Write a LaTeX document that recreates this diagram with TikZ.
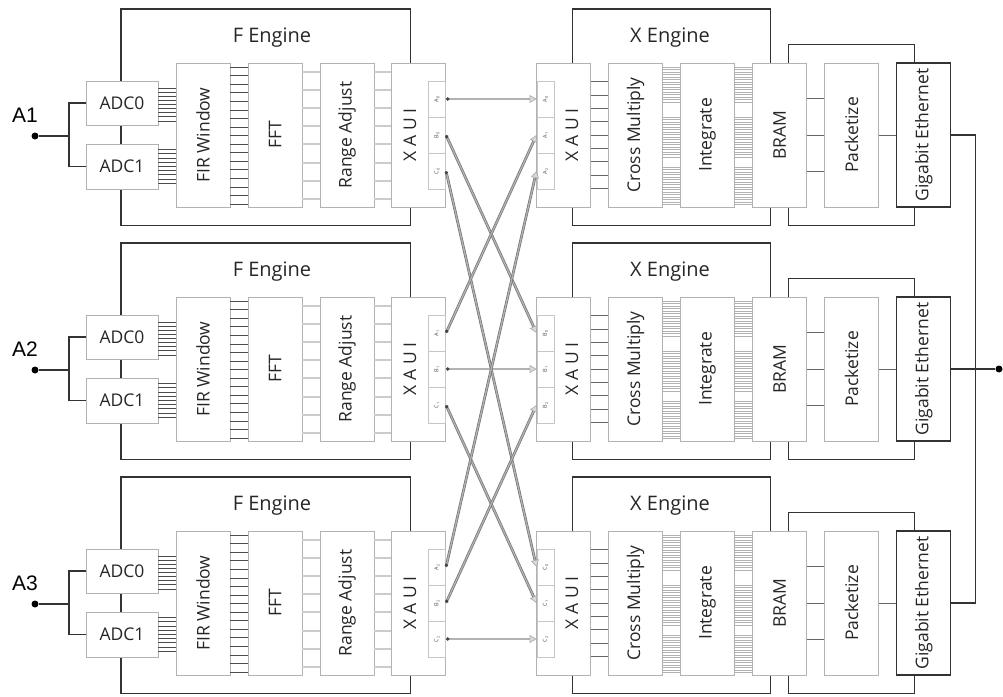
\documentclass[tikz,border=0pt]{standalone}
\usepackage{fontspec}
\setsansfont{Open Sans}
\newfontfamily\arialf{Liberation Sans}
\usetikzlibrary{arrows.meta}
\begin{document}
\begin{tikzpicture}[x=1pt,y=-1pt,
  eng/.style={draw=black!80, line width=1.2pt, inner sep=0pt},
  blk/.style={draw=gray!60, line width=0.9pt, fill=white, inner sep=0pt, minimum width=54pt, minimum height=144pt},
  gbe/.style={blk, draw=black!80, line width=1.2pt},
  txt/.style={font=\sffamily\fontsize{17.5}{18}\selectfont, text=black!85, inner sep=0pt},
  vtxt/.style={txt, rotate=90},
  ttl/.style={font=\sffamily\fontsize{20}{22}\selectfont, text=black!85, inner sep=0pt},
  slot/.style={draw=gray!45, line width=0.6pt, fill=white, minimum width=17.4pt, minimum height=36pt, inner sep=0pt},
  slbl/.style={font=\sffamily\fontsize{5.5}{5.5}\selectfont, text=gray!60!black, rotate=90, inner sep=0pt},
  busd/.style={draw=black!70, line width=0.5pt},
  busl/.style={draw=gray!40, line width=2pt},
  busm/.style={draw=black!60, line width=0.6pt},
  dense/.style={draw=gray!60, line width=0.5pt},
  wire/.style={draw=black!80, line width=1.2pt},
  conn/.style={draw=black!55, double=gray!60, line width=0.7pt, double distance=1.3pt,
    {Circle[length=3.5pt,color=black!75]}-{Triangle[length=7pt,width=8pt,fill=gray!30,color=gray!70,line width=0.6pt]}},
  dot/.style={circle, fill=black, inner sep=0pt, minimum size=7pt},
  alab/.style={font=\arialf\fontsize{21}{21}\selectfont, text=black, inner sep=0pt}
]
\useasboundingbox (0,0) rectangle (1003,696);

\foreach \r/\RL in {0/A,1/B,2/C}{
\begin{scope}[shift={(0,234*\r)}]
  % outer engine frames
  \node[eng, minimum width=289.7pt, minimum height=216.7pt] (feng\r) at (265.85,117.35) {};
  \node[ttl] (fengt\r) at (272,38) {F Engine};
  \node[eng, minimum width=198.4pt, minimum height=216.7pt] (xeng\r) at (671.5,117.35) {};
  \node[ttl] (xengt\r) at (670,38) {X Engine};
  \node[eng, minimum width=126pt, minimum height=181.4pt] (brk\r) at (851.3,135) {};
  % blocks
  \node[blk, minimum width=72pt, minimum height=44pt] (adca\r) at (122,103) {};
  \node[blk, minimum width=72pt, minimum height=45pt] (adcb\r) at (122,166.5) {};
  \node[blk] (fir\r) at (203,135) {};
  \node[blk] (fft\r) at (275,135) {};
  \node[blk] (ra\r) at (347,135) {};
  \node[blk] (fx\r) at (418.85,135) {};
  \node[blk] (xx\r) at (563.35,135) {};
  \node[blk] (cm\r) at (635.5,135) {};
  \node[blk] (int\r) at (707.5,135) {};
  \node[blk] (bram\r) at (779.5,135) {};
  \node[blk] (pkt\r) at (851.5,135) {};
  \node[gbe] (gbe\r) at (923.7,135) {};
  % bus lines
  \foreach \i in {0,...,8}{
    \draw[busd] (adca\r.east |- 0,88+4.1*\i) -- (fir\r.west |- 0,88+4.1*\i);
    \draw[busd] (adcb\r.east |- 0,149.5+4.2*\i) -- (fir\r.west |- 0,149.5+4.2*\i);
    \draw[busm] (xx\r.east |- 0,81.7+13.3*\i) -- (cm\r.west |- 0,81.7+13.3*\i);
  }
  \foreach \i in {0,...,16}
    \draw[busd] (fir\r.east |- 0,67+8.56*\i) -- (fft\r.west |- 0,67+8.56*\i);
  \foreach \i in {0,...,7}{
    \draw[busl] (fft\r.east |- 0,71.5+18.2*\i) -- (ra\r.west |- 0,71.5+18.2*\i);
    \draw[busl] (ra\r.east |- 0,71.5+18.2*\i) -- (fx\r.west |- 0,71.5+18.2*\i);
  }
  \foreach \a/\n in {67/14,117/16,167/15}
    \foreach \i in {0,...,\n}{
      \draw[dense] (cm\r.east |- 0,\a+2.5*\i) -- (int\r.west |- 0,\a+2.5*\i);
      \draw[dense] (int\r.east |- 0,\a+2.5*\i) -- (bram\r.west |- 0,\a+2.5*\i);
    }
  \foreach \yy in {98.3,135,171.7}
    \draw[busm] (bram\r.east |- 0,\yy) -- (pkt\r.west |- 0,\yy);
  \draw[busm] (pkt\r) -- (gbe\r);
  % texts
  \node[txt] (adcat\r) at (adca\r) {ADC0};
  \node[txt] (adcbt\r) at (adcb\r) {ADC1};
  \node[vtxt] (firt\r) at (fir\r) {FIR Window};
  \node[vtxt] (fftt\r) at (fft\r) {FFT};
  \node[vtxt] (rat\r) at (ra\r) {Range Adjust};
  \node[vtxt] (fxt\r) at (410,135) {X A U I};
  \node[vtxt] (xxt\r) at (572,135) {X A U I};
  \node[vtxt] (cmt\r) at (cm\r) {Cross Multiply};
  \node[vtxt] (intt\r) at (int\r) {Integrate};
  \node[vtxt] (bramt\r) at (bram\r) {BRAM};
  \node[vtxt] (pktt\r) at (pkt\r) {Packetize};
  \node[vtxt] (gbet\r) at (gbe\r) {Gigabit Ethernet};
  % XAUI slots
  \foreach \k/\L in {0/A,1/B,2/C}{
    \node[slot] (fs\r\k) at (437,99+36*\k) {};
    \node[slbl] (fsl\r\k) at (fs\r\k) {\L\textsubscript{\r}};
    \node[slot] (xs\r\k) at (545.5,99+36*\k) {};
    \node[slbl] (xsl\r\k) at (xs\r\k) {\RL\textsubscript{\k}};
  }
  % analog input
  \node[alab] (al\r) at (25,115) {A\pgfmathparse{int(\r+1)}\pgfmathresult};
  \node[dot] (in\r) at (35,136) {};
  \coordinate (j\r) at (69,136);
  \draw[wire] (in\r) -- (j\r);
  \draw[wire] (adca\r.west) -| (j\r) |- (adcb\r.west);
\end{scope}
}

% crossbar connections
\foreach \r in {0,1,2}
  \foreach \k in {0,1,2}
    \draw[conn] (fs\r\k.east) -- (xs\k\r.west);

% output bus
\coordinate (b0) at (975.7,135);
\coordinate (b2) at (975.7,603);
\node[dot] (out) at (999,369) {};
\draw[wire] (gbe0.east) -- (b0) -- (b2) -- (gbe2.east);
\draw[wire] (gbe1.east) -- (out);
\end{tikzpicture}
\end{document}
